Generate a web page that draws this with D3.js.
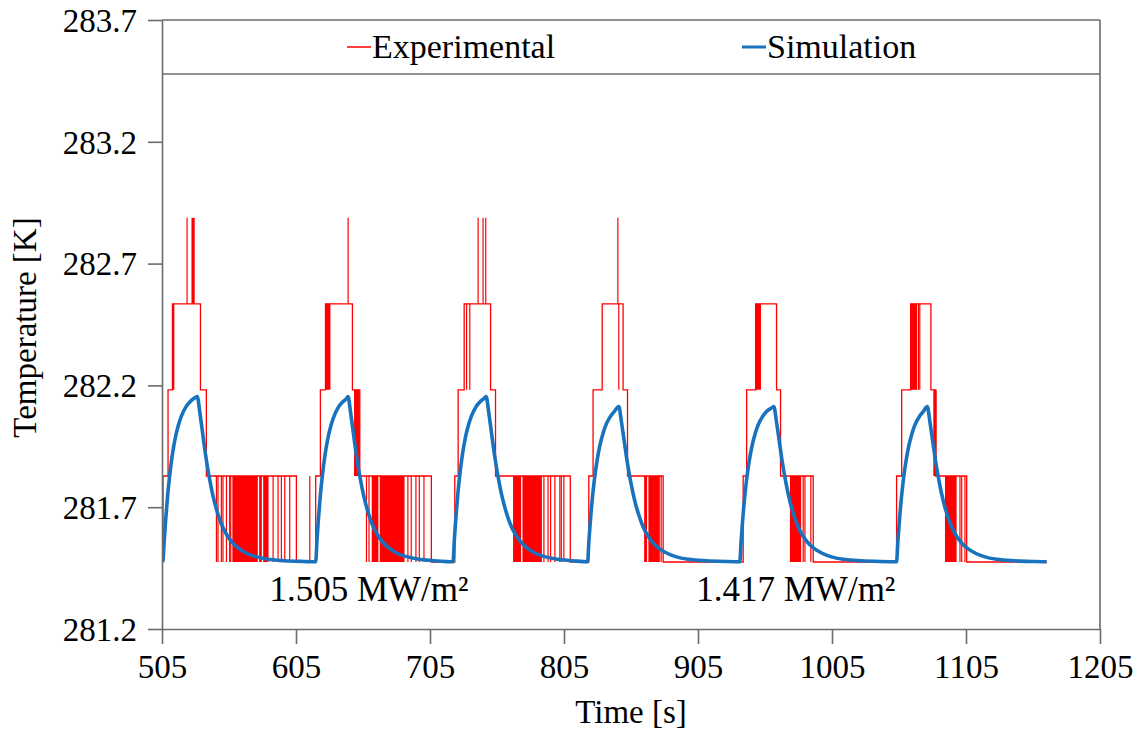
<!DOCTYPE html>
<html>
<head>
<meta charset="utf-8">
<script src="https://cdn.jsdelivr.net/npm/d3@7"></script>
<style>
  html, body { margin: 0; padding: 0; background: #fff; }
  svg text { font-family: "Liberation Serif", "Times New Roman", Times, serif !important; }
</style>
</head>
<body>
<svg id="chart" width="1142" height="734"></svg>
<script>
// ---------------- data ----------------
const xTicks = [505, 605, 705, 805, 905, 1005, 1105, 1205];
const yTicks = [281.2, 281.7, 282.2, 282.7, 283.2, 283.7];

// Experimental: step outline [time s, temperature K] (step-after)
const expSteps = [
  [505.0, 281.475], [505.75, 281.828], [509.5, 282.182], [512.8, 282.535], [533.7, 282.182], [538.1, 281.828], [605.3, 281.475],
  [619.7, 281.828], [623.2, 282.182], [627.0, 282.535], [647.1, 282.182], [652.6, 281.828], [706.0, 281.475],
  [723.5, 281.828], [726.0, 282.182], [730.5, 282.535], [750.2, 282.182], [753.9, 281.828], [809.7, 281.475],
  [823.5, 281.828], [826.7, 282.182], [833.5, 282.535], [849.1, 282.182], [852.4, 281.828], [879.0, 281.475],
  [938.7, 281.828], [941.3, 282.182], [948.0, 282.535], [963.6, 282.182], [966.6, 281.828], [991.0, 281.475],
  [1053.2, 281.828], [1057.0, 282.182], [1063.7, 282.535], [1078.8, 282.182], [1082.3, 281.828], [1105.5, 281.475],
  [1165.2, 281.475]
];

// Experimental: densely flickering intervals [t0, t1, low K, high K]
const expDense = [
  [512.8, 514.2, 282.182, 282.535], [527.0, 529.4, 282.535, 282.888],
  [557.5, 576.5, 281.475, 281.828], [577.5, 579.5, 281.475, 281.828], [580.5, 584.5, 281.475, 281.828],
  [627.0, 630.7, 282.182, 282.535], [648.3, 652.6, 281.828, 282.182],
  [661.5, 666.5, 281.475, 281.828], [667.5, 686.0, 281.475, 281.828],
  [767.0, 773.0, 281.475, 281.828], [774.0, 788.5, 281.475, 281.828],
  [864.8, 867.0, 281.475, 281.828], [868.0, 876.5, 281.475, 281.828],
  [948.0, 952.0, 282.182, 282.535], [973.6, 982.0, 281.475, 281.828],
  [1063.7, 1068.5, 282.182, 282.535], [1080.6, 1083.1, 281.828, 282.182], [1089.3, 1098.0, 281.475, 281.828]
];

// Experimental: single switching events [t, low K, high K]
const expSpikes = [
  [523.7, 282.535, 282.888],
  [545.6, 281.475, 281.828], [546.8, 281.475, 281.828], [549.3, 281.475, 281.828], [550.5, 281.475, 281.828],
  [553.1, 281.475, 281.828], [555.5, 281.475, 281.828], [556.3, 281.475, 281.828],
  [587.9, 281.475, 281.828], [591.6, 281.475, 281.828], [594.1, 281.475, 281.828], [596.6, 281.475, 281.828],
  [600.3, 281.475, 281.828], [615.3, 281.475, 281.828],
  [643.9, 282.535, 282.888],
  [657.6, 281.475, 281.828], [659.5, 281.475, 281.828], [688.5, 281.475, 281.828], [691.0, 281.475, 281.828],
  [694.5, 281.475, 281.828], [697.0, 281.475, 281.828], [700.5, 281.475, 281.828],
  [732.3, 282.182, 282.535], [734.7, 282.182, 282.535],
  [740.9, 282.535, 282.888], [744.6, 282.535, 282.888], [746.6, 282.535, 282.888],
  [790.0, 281.475, 281.828], [793.1, 281.475, 281.828], [795.0, 281.475, 281.828], [798.2, 281.475, 281.828],
  [801.9, 281.475, 281.828], [803.0, 281.475, 281.828], [804.9, 281.475, 281.828],
  [845.2, 282.535, 282.888], [845.9, 282.182, 282.535],
  [877.5, 281.475, 281.828],
  [983.5, 281.475, 281.828], [984.8, 281.475, 281.828], [989.2, 281.475, 281.828],
  [1069.5, 282.182, 282.535], [1070.5, 282.182, 282.535],
  [1100.5, 281.475, 281.828], [1101.8, 281.475, 281.828], [1104.2, 281.475, 281.828]
];

// Simulation [time s, temperature K]
const simulation = [
  // pulse 1
  [505.75, 281.476], [506.75, 281.569], [507.75, 281.649], [509.25, 281.750], [510.75, 281.831], [512.75, 281.916],
  [514.75, 281.980], [517.25, 282.037], [519.75, 282.078], [522.75, 282.111], [525.75, 282.132], [528.75, 282.146],
  [531.3, 282.154],
  [533.3, 282.086], [535.3, 282.005], [537.3, 281.923], [540.3, 281.822], [543.3, 281.740], [546.3, 281.679],
  [549.3, 281.631], [553.3, 281.587], [557.3, 281.556], [561.3, 281.535], [567.3, 281.513], [574.3, 281.498],
  [583.3, 281.487], [596.3, 281.480], [611.3, 281.477],
  // pulse 2
  [619.7, 281.476], [620.7, 281.569], [621.7, 281.649], [623.2, 281.750], [624.7, 281.831], [626.7, 281.916],
  [628.7, 281.980], [631.2, 282.037], [633.7, 282.078], [636.7, 282.111], [639.7, 282.132], [642.7, 282.146],
  [643.8, 282.154],
  [645.8, 282.086], [647.8, 282.005], [649.8, 281.923], [652.8, 281.822], [655.8, 281.740], [658.8, 281.679],
  [661.8, 281.631], [665.8, 281.587], [669.8, 281.556], [673.8, 281.535], [679.8, 281.513], [686.8, 281.498],
  [695.8, 281.487], [708.8, 281.480],
  // pulse 3
  [722.2, 281.476], [723.2, 281.569], [724.2, 281.649], [725.7, 281.750], [727.2, 281.831], [729.2, 281.916],
  [731.2, 281.980], [733.7, 282.037], [736.2, 282.078], [739.2, 282.111], [742.2, 282.132], [745.2, 282.146],
  [746.9, 282.154],
  [748.9, 282.086], [750.9, 282.005], [752.9, 281.923], [755.9, 281.822], [758.9, 281.740], [761.9, 281.679],
  [764.9, 281.631], [768.9, 281.587], [772.9, 281.556], [776.9, 281.535], [782.9, 281.513], [789.9, 281.498],
  [798.9, 281.487], [811.9, 281.480],
  // pulse 4
  [822.6, 281.476], [823.6, 281.563], [824.6, 281.638], [826.1, 281.733], [827.6, 281.810], [829.6, 281.889],
  [831.6, 281.949], [834.1, 282.003], [836.6, 282.042], [839.6, 282.072], [842.6, 282.093], [845.9, 282.113],
  [847.9, 282.049], [849.9, 281.973], [851.9, 281.896], [854.9, 281.801], [857.9, 281.724], [860.9, 281.667],
  [863.9, 281.621], [867.9, 281.580], [871.9, 281.551], [875.9, 281.531], [881.9, 281.511], [888.9, 281.496],
  [897.9, 281.486], [910.9, 281.480], [925.9, 281.477],
  // pulse 5
  [936.2, 281.476], [937.2, 281.563], [938.2, 281.638], [939.7, 281.733], [941.2, 281.810], [943.2, 281.889],
  [945.2, 281.949], [947.7, 282.003], [950.2, 282.042], [953.2, 282.072], [956.2, 282.093], [959.2, 282.105],
  [961.6, 282.113],
  [963.6, 282.049], [965.6, 281.973], [967.6, 281.896], [970.6, 281.801], [973.6, 281.724], [976.6, 281.667],
  [979.6, 281.621], [983.6, 281.580], [987.6, 281.551], [991.6, 281.531], [997.6, 281.511], [1004.6, 281.496],
  [1013.6, 281.486], [1026.6, 281.480], [1041.6, 281.477],
  // pulse 6
  [1053.2, 281.476], [1054.2, 281.563], [1055.2, 281.638], [1056.7, 281.733], [1058.2, 281.810], [1060.2, 281.889],
  [1062.2, 281.949], [1064.7, 282.003], [1067.2, 282.042], [1070.2, 282.072], [1073.2, 282.093], [1076.1, 282.113],
  [1078.1, 282.049], [1080.1, 281.973], [1082.1, 281.896], [1085.1, 281.801], [1088.1, 281.724], [1091.1, 281.667],
  [1094.1, 281.621], [1098.1, 281.580], [1102.1, 281.551], [1106.1, 281.531], [1112.1, 281.511], [1119.1, 281.496],
  [1128.1, 281.486], [1141.1, 281.480], [1156.1, 281.477], [1165.2, 281.476]
];

const legendItems = ["Experimental", "Simulation"];
const annotations = [["1.505 MW/m²", 659.5], ["1.417 MW/m²", 978.0]];

// ---------------- drawing ----------------
const svg = d3.select("#chart");
const L = 162, R = 1100, T = 20, B = 629;
const RED = "#ff0000", BLUE = "#1872bd", AXIS = "#6b6b6b";
const SERIF = "'Liberation Serif', 'Times New Roman', Times, serif";

const x = d3.scaleLinear().domain([505, 1205]).range([L, R]);
const y = d3.scaleLinear().domain([281.2, 283.7]).range([B, T]);

svg.append("defs").append("clipPath").attr("id", "clip")
  .append("rect").attr("x", L).attr("y", T).attr("width", R - L).attr("height", B - T);

const plot = svg.append("g").attr("clip-path", "url(#clip)");

plot.selectAll("rect.dense").data(expDense).enter().append("rect")
  .attr("class", "dense")
  .attr("x", d => x(d[0])).attr("width", d => x(d[1]) - x(d[0]))
  .attr("y", d => y(d[3])).attr("height", d => y(d[2]) - y(d[3]))
  .attr("fill", RED);

plot.selectAll("line.spike").data(expSpikes).enter().append("line")
  .attr("class", "spike")
  .attr("x1", d => x(d[0])).attr("x2", d => x(d[0]))
  .attr("y1", d => y(d[1])).attr("y2", d => y(d[2]))
  .attr("stroke", RED).attr("stroke-width", 1.2);

plot.append("path").datum(expSteps)
  .attr("d", d3.line().x(d => x(d[0])).y(d => y(d[1])).curve(d3.curveStepAfter))
  .attr("fill", "none").attr("stroke", RED).attr("stroke-width", 1.3);

plot.append("path").datum(simulation)
  .attr("d", d3.line().x(d => x(d[0])).y(d => y(d[1])).curve(d3.curveMonotoneX))
  .attr("fill", "none").attr("stroke", BLUE).attr("stroke-width", 3.6)
  .attr("stroke-linejoin", "round");

// frame
svg.append("line").attr("x1", R).attr("x2", R).attr("y1", T).attr("y2", B)
  .attr("stroke", AXIS).attr("stroke-width", 1.6);
svg.append("line").attr("x1", L).attr("x2", R).attr("y1", T).attr("y2", T)
  .attr("stroke", AXIS).attr("stroke-width", 1.6);
svg.append("line").attr("x1", L).attr("x2", R).attr("y1", 74).attr("y2", 74)
  .attr("stroke", AXIS).attr("stroke-width", 1.6);

// axes
const xAxis = svg.append("g").attr("transform", `translate(0,${B})`)
  .call(d3.axisBottom(x).tickValues(xTicks).tickFormat(d3.format("d")).tickSize(15).tickPadding(6).tickSizeOuter(0));
const yAxis = svg.append("g").attr("transform", `translate(${L},0)`)
  .call(d3.axisLeft(y).tickValues(yTicks).tickFormat(d3.format(".1f")).tickSize(14).tickPadding(11).tickSizeOuter(0));
[xAxis, yAxis].forEach(g => {
  g.attr("font-family", SERIF).attr("font-size", 33);
  g.select(".domain").attr("stroke", AXIS).attr("stroke-width", 1.6);
  g.selectAll(".tick line").attr("stroke", AXIS).attr("stroke-width", 1.6);
  g.selectAll(".tick text").style("font-family", SERIF).style("font-size", "33px").attr("fill", "#000");
});
xAxis.selectAll(".tick text").attr("dy", "0.85em");
yAxis.selectAll(".tick text").attr("dy", "0.34em");

// axis titles
svg.append("text").attr("x", 631).attr("y", 723).attr("text-anchor", "middle")
  .style("font-family", SERIF).style("font-size", "33px").attr("fill", "#000").text("Time [s]");
svg.append("text").attr("transform", `translate(36,${(T + B) / 2 + 3}) rotate(-90)`)
  .attr("text-anchor", "middle").style("font-family", SERIF).style("font-size", "33px")
  .attr("fill", "#000").text("Temperature [K]");

// legend
const legendX = [347, 742];
const legendColors = [RED, BLUE];
const legendW = [1.5, 3];
legendItems.forEach((name, i) => {
  svg.append("line").attr("x1", legendX[i]).attr("x2", legendX[i] + 24).attr("y1", 47).attr("y2", 47)
    .attr("stroke", legendColors[i]).attr("stroke-width", legendW[i]);
  svg.append("text").attr("x", legendX[i] + 25).attr("y", 58)
    .style("font-family", SERIF).style("font-size", "34px")
    .attr("fill", "#000").text(name);
});

// annotations
annotations.forEach(([label, t]) => {
  svg.append("text").attr("x", x(t)).attr("y", 601).attr("text-anchor", "middle")
    .style("font-family", SERIF).style("font-size", "35px").attr("fill", "#000").text(label);
});
</script>
</body>
</html>
